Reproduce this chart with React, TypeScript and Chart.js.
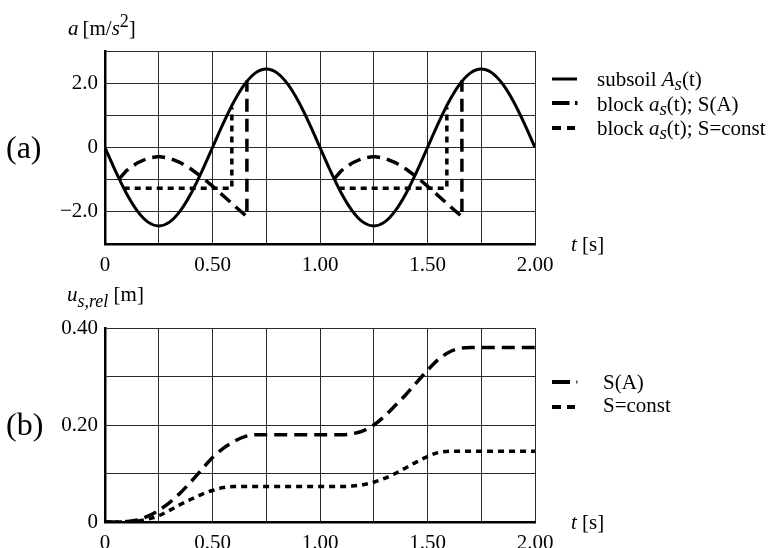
import React, { useEffect, useRef } from "react";
import { Chart, registerables } from "chart.js";

Chart.register(...registerables);

const FONT = "'Liberation Serif', 'Times New Roman', Times, serif";
const FS = 21;

// ---------- Panel (a): accelerations ----------
const T_A = [
  0, 0.05, 0.1, 0.15, 0.2, 0.25, 0.3, 0.35, 0.4, 0.45, 0.5, 0.55, 0.6, 0.65, 0.7, 0.75, 0.8, 0.85, 0.9, 0.95,
  1.0, 1.05, 1.1, 1.15, 1.2, 1.25, 1.3, 1.35, 1.4, 1.45, 1.5, 1.55, 1.6, 1.65, 1.7, 1.75, 1.8, 1.85, 1.9, 1.95, 2.0,
];
const SUBSOIL_A = [
  0, -0.75, -1.43, -1.97, -2.32, -2.44, -2.32, -1.97, -1.43, -0.75, 0, 0.75, 1.43, 1.97, 2.32, 2.44, 2.32, 1.97, 1.43, 0.75,
  0, -0.75, -1.43, -1.97, -2.32, -2.44, -2.32, -1.97, -1.43, -0.75, 0, 0.75, 1.43, 1.97, 2.32, 2.44, 2.32, 1.97, 1.43, 0.75, 0,
];
const BLOCK_SA_T = [
  0.067, 0.1, 0.15, 0.2, 0.25, 0.3, 0.35, 0.4, 0.45, 0.5, 0.55, 0.6, 0.66, 0.66, 0.8,
  1.067, 1.1, 1.15, 1.2, 1.25, 1.3, 1.35, 1.4, 1.45, 1.5, 1.55, 1.6, 1.66, 1.66,
];
const BLOCK_SA_A = [
  -0.97, -0.72, -0.48, -0.33, -0.28, -0.33, -0.47, -0.67, -0.92, -1.2, -1.5, -1.8, -2.15, 2.08, null,
  -0.97, -0.72, -0.48, -0.33, -0.28, -0.33, -0.47, -0.67, -0.92, -1.2, -1.5, -1.8, -2.15, 2.08,
];
const BLOCK_SC_T = [0.087, 0.59, 0.59, 0.8, 1.087, 1.59, 1.59];
const BLOCK_SC_A = [-1.27, -1.27, 1.24, null, -1.27, -1.27, 1.24];

// ---------- Panel (b): relative displacements ----------
const T_B = [
  0, 0.05, 0.1, 0.15, 0.2, 0.25, 0.3, 0.35, 0.4, 0.45, 0.5, 0.55, 0.6, 0.65, 0.7, 0.75, 0.8, 0.85, 0.9, 0.95,
  1.0, 1.05, 1.1, 1.15, 1.2, 1.25, 1.3, 1.35, 1.4, 1.45, 1.5, 1.55, 1.6, 1.65, 1.7, 1.75, 1.8, 1.85, 1.9, 1.95, 2.0,
];
const U_SA = [
  0, 0, 0.001, 0.004, 0.012, 0.024, 0.04, 0.06, 0.083, 0.108, 0.133, 0.152, 0.166, 0.176, 0.18, 0.18, 0.18, 0.18, 0.18, 0.18,
  0.18, 0.18, 0.18, 0.182, 0.188, 0.2, 0.218, 0.24, 0.263, 0.288, 0.313, 0.335, 0.35, 0.358, 0.36, 0.36, 0.36, 0.36, 0.36, 0.36, 0.36,
];
const U_SC = [
  0, 0, 0, 0.002, 0.006, 0.013, 0.024, 0.036, 0.047, 0.057, 0.065, 0.071, 0.073, 0.073, 0.073, 0.073, 0.073, 0.073, 0.073, 0.073,
  0.073, 0.073, 0.073, 0.074, 0.077, 0.082, 0.09, 0.1, 0.112, 0.124, 0.135, 0.143, 0.146, 0.146, 0.146, 0.146, 0.146, 0.146, 0.146, 0.146, 0.146,
];

// ---------- Tick labels ----------
const X_TICK_VALUES = [0, 0.5, 1, 1.5, 2];
const X_TICK_LABELS = ["0", "0.50", "1.00", "1.50", "2.00"];
const YA_TICK_VALUES = [-2, 0, 2];
const YA_TICK_LABELS = ["\u22122.0", "0", "2.0"];
const YB_TICK_VALUES = [0, 0.2, 0.4];
const YB_TICK_LABELS = ["0", "0.20", "0.40"];

function pts(t: number[], v: (number | null)[]) {
  return t.map((x, i) => ({ x, y: v[i] }));
}

function labeler(values: number[], labels: string[]) {
  return (v: any) => {
    const n = Number(v);
    for (let i = 0; i < values.length; i++) {
      if (Math.abs(values[i] - n) < 1e-6) return labels[i];
    }
    return "";
  };
}

function makeConfig(
  datasets: any[],
  y: { min: number; max: number; step: number; values: number[]; labels: string[] },
  layout: { top: number; axisH: number }
): any {
  return {
    type: "line",
    data: { datasets },
    options: {
      responsive: false,
      maintainAspectRatio: false,
      animation: false,
      events: [],
      layout: { padding: { top: layout.top, right: 240, left: 0, bottom: 0 } },
      plugins: { legend: { display: false }, tooltip: { enabled: false } },
      elements: { point: { radius: 0 } },
      scales: {
        x: {
          type: "linear",
          min: 0,
          max: 2,
          afterFit: (s: any) => {
            s.height = layout.axisH;
          },
          ticks: {
            stepSize: 0.25,
            autoSkip: false,
            maxRotation: 0,
            padding: 9,
            color: "#000",
            font: { family: FONT, size: FS },
            callback: labeler(X_TICK_VALUES, X_TICK_LABELS),
          },
          grid: { color: "#2a2a2a", lineWidth: 1, drawTicks: false },
          border: { color: "#000", width: 2.5 },
        },
        y: {
          type: "linear",
          min: y.min,
          max: y.max,
          afterFit: (s: any) => {
            s.width = 105;
          },
          ticks: {
            stepSize: y.step,
            autoSkip: false,
            padding: 7,
            color: "#000",
            font: { family: FONT, size: FS },
            callback: labeler(y.values, y.labels),
          },
          grid: { color: "#2a2a2a", lineWidth: 1, drawTicks: false },
          border: { color: "#000", width: 2.5 },
        },
      },
    },
  };
}

function Panel(props: { config: any; top: number; height: number }) {
  const ref = useRef<HTMLCanvasElement | null>(null);
  useEffect(() => {
    if (!ref.current) return;
    const chart = new Chart(ref.current, props.config);
    return () => chart.destroy();
  }, []);
  return (
    <canvas
      ref={ref}
      width={775}
      height={props.height}
      style={{ position: "absolute", left: 0, top: props.top, width: 775, height: props.height }}
    />
  );
}

const txt = (left: number, baseline: number, size: number, children: any) => (
  <div
    style={{
      position: "absolute",
      left,
      top: baseline - size * 0.8375,
      fontFamily: FONT,
      fontSize: size,
      lineHeight: size + "px",
      whiteSpace: "nowrap",
      color: "#000",
    }}
  >
    {children}
  </div>
);

const Sub = (p: { c: string; size?: number; drop?: number }) => (
  <span style={{ fontStyle: "italic", fontSize: p.size || 19, position: "relative", top: p.drop || 4 }}>{p.c}</span>
);

function Sample(props: { left: number; y: number; kind: "solid" | "sa" | "sc" | "sab" }) {
  const { left, y, kind } = props;
  return (
    <svg width={30} height={10} style={{ position: "absolute", left, top: y - 5 }}>
      {kind === "solid" && <line x1={0} y1={5} x2={25} y2={5} stroke="#000" strokeWidth={3} />}
      {kind === "sa" && (
        <>
          <line x1={0} y1={5} x2={17.5} y2={5} stroke="#000" strokeWidth={4} />
          <line x1={23} y1={5} x2={25.5} y2={5} stroke="#000" strokeWidth={4} />
        </>
      )}
      {kind === "sab" && (
        <>
          <line x1={0} y1={5} x2={18} y2={5} stroke="#000" strokeWidth={4} />
          <line x1={24} y1={5} x2={25.5} y2={5} stroke="#555" strokeWidth={3} />
        </>
      )}
      {kind === "sc" && (
        <>
          <line x1={0} y1={5} x2={9} y2={5} stroke="#000" strokeWidth={4} />
          <line x1={15} y1={5} x2={23} y2={5} stroke="#000" strokeWidth={4} />
        </>
      )}
    </svg>
  );
}

export default function App() {
  const configA = makeConfig(
    [
      {
        label: "subsoil As(t)",
        data: pts(T_A, SUBSOIL_A),
        borderColor: "#000",
        borderWidth: 3,
        cubicInterpolationMode: "monotone",
        pointRadius: 0,
      },
      {
        label: "block as(t); S(A)",
        data: pts(BLOCK_SA_T, BLOCK_SA_A),
        borderColor: "#000",
        borderWidth: 3.5,
        borderDash: [13, 7],
        tension: 0,
        pointRadius: 0,
      },
      {
        label: "block as(t); S=const",
        data: pts(BLOCK_SC_T, BLOCK_SC_A),
        borderColor: "#000",
        borderWidth: 3.5,
        borderDash: [6, 5],
        tension: 0,
        pointRadius: 0,
      },
    ],
    { min: -3, max: 3, step: 1, values: YA_TICK_VALUES, labels: YA_TICK_LABELS },
    { top: 51, axisH: 31 }
  );

  const configB = makeConfig(
    [
      {
        label: "S(A)",
        data: pts(T_B, U_SA),
        borderColor: "#000",
        borderWidth: 3.5,
        borderDash: [13, 7],
        cubicInterpolationMode: "monotone",
        pointRadius: 0,
      },
      {
        label: "S=const",
        data: pts(T_B, U_SC),
        borderColor: "#000",
        borderWidth: 3.5,
        borderDash: [6, 5],
        cubicInterpolationMode: "monotone",
        pointRadius: 0,
      },
    ],
    { min: 0, max: 0.4, step: 0.1, values: YB_TICK_VALUES, labels: YB_TICK_LABELS },
    { top: 53, axisH: 26 }
  );

  return (
    <div
      style={{
        position: "absolute",
        left: 0,
        top: 0,
        width: 775,
        height: 548,
        overflow: "hidden",
        background: "#fff",
      }}
    >
      <Panel config={configA} top={0} height={275} />
      <Panel config={configB} top={275} height={273} />

      {/* Panel (a) texts */}
      {txt(68, 36, FS, (
        <>
          <i>a</i>
          <span style={{ marginLeft: 4 }}>[m/</span>
          <i>s</i>
          <span style={{ fontSize: 18, position: "relative", top: -8 }}>2</span>]
        </>
      ))}
      {txt(6, 158, 32, "(a)")}
      {txt(571, 252, FS, (
        <>
          <i>t</i> [s]
        </>
      ))}
      <Sample left={552} y={78.5} kind="solid" />
      <Sample left={552} y={103} kind="sa" />
      <Sample left={552} y={128} kind="sc" />
      {txt(597, 87, FS, (
        <>
          subsoil <i>A</i>
          <Sub c="s" />(t)
        </>
      ))}
      {txt(597, 111.5, FS, (
        <>
          block <i>a</i>
          <Sub c="s" />(t); S(A)
        </>
      ))}
      {txt(597, 135.5, FS, (
        <>
          block <i>a</i>
          <Sub c="s" />(t); S=const
        </>
      ))}

      {/* Panel (b) texts */}
      {txt(67, 302, FS, (
        <>
          <i>u</i>
          <Sub c="s,rel" size={18} drop={6} /> [m]
        </>
      ))}
      {txt(6, 435, 32, "(b)")}
      {txt(571, 530, FS, (
        <>
          <i>t</i> [s]
        </>
      ))}
      <Sample left={552} y={382} kind="sab" />
      <Sample left={552} y={406.5} kind="sc" />
      {txt(603, 390, FS, "S(A)")}
      {txt(603, 412.5, FS, "S=const")}
    </div>
  );
}
